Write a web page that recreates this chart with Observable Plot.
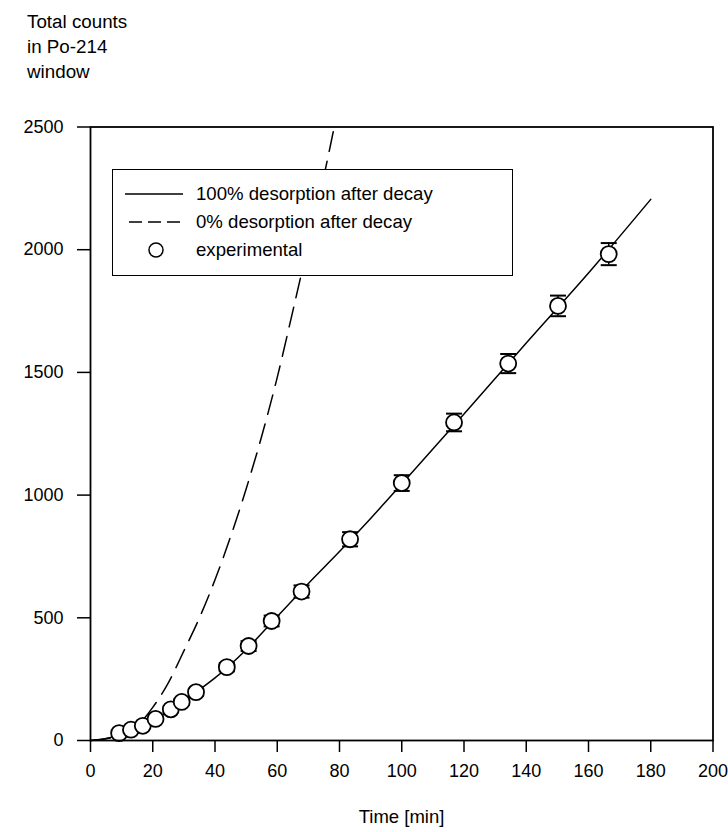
<!DOCTYPE html>
<html><head><meta charset="utf-8">
<script src="https://cdn.jsdelivr.net/npm/d3@7"></script>
<script src="https://cdn.jsdelivr.net/npm/@observablehq/plot@0.6"></script>
<style>
body{margin:0;background:#fff;font-family:"Liberation Sans",Arial,sans-serif;color:#000;}
#wrap{position:relative;width:728px;height:832px;}
#title{position:absolute;left:27px;top:9px;font-size:18.8px;line-height:25px;}
#xlabel{position:absolute;left:90px;width:623px;top:806px;text-align:center;font-size:18.5px;}
#legend{position:absolute;left:112px;top:169px;width:401px;height:107px;border:1.5px solid #000;background:#fff;box-sizing:border-box;}
.row{position:absolute;left:0;height:26px;width:100%;font-size:18.6px;line-height:26px;}
.row svg{position:absolute;left:10px;top:3px;}
.row span{position:absolute;left:83px;top:0;white-space:nowrap;}
</style></head>
<body><div id="wrap">
<div id="title">Total counts<br>in Po-214<br>window</div>
<div id="chart"></div>
<div id="legend">
 <div class="row" style="top:11px"><svg width="62" height="20"><line x1="2" y1="10" x2="60" y2="10" stroke="#000" stroke-width="1.5"/></svg><span>100% desorption after decay</span></div>
 <div class="row" style="top:39px"><svg width="62" height="20"><line x1="6" y1="10" x2="60" y2="10" stroke="#000" stroke-width="1.5" stroke-dasharray="13,6"/></svg><span>0% desorption after decay</span></div>
 <div class="row" style="top:67px"><svg width="62" height="20"><circle cx="33" cy="10" r="7" fill="#fff" stroke="#000" stroke-width="1.5"/></svg><span>experimental</span></div>
</div>
<div id="xlabel">Time [min]</div>
</div>
<script>
// experimental points
const expT = [9.2, 13.0, 16.8, 20.9, 25.8, 29.3, 33.9, 43.8, 50.8, 58.2, 67.8, 83.4, 100.0, 116.8, 134.2, 150.2, 166.5];
const expY = [30, 44, 60, 88, 127, 157, 197, 299, 385, 487, 607, 820, 1049, 1296, 1536, 1771, 1982];
const expErr = [5, 7, 8, 9, 11, 13, 14, 17, 20, 22, 25, 29, 32, 36, 39, 42, 45];
// model: 100% desorption after decay
const fullT = [0, 5, 10, 15, 20, 25, 30, 35, 40, 50, 60, 70, 80, 90, 100, 120, 140, 160, 180];
const fullY = [0, 8, 25, 50, 82, 120, 162, 207, 255, 370, 505, 640, 770, 905, 1045, 1330, 1620, 1905, 2205];
// model: 0% desorption after decay
const zeroT = [0, 5, 10, 15, 20, 25, 30, 35, 40, 45, 50, 55, 60, 65, 70, 75, 78.3];
const zeroY = [0, 7, 24, 60, 135, 235, 365, 500, 655, 830, 1025, 1240, 1480, 1750, 2025, 2300, 2500];
const xTicks = [0, 20, 40, 60, 80, 100, 120, 140, 160, 180, 200];
const yTicks = [0, 500, 1000, 1500, 2000, 2500];

const exp = expT.map((t, i) => ({t, y: expY[i], e: expErr[i]}));
const full = fullT.map((t, i) => ({t, y: fullY[i]}));
const zero = zeroT.map((t, i) => ({t, y: zeroY[i]}));

const cap = {draw(ctx, size) { const w = Math.sqrt(size / Math.PI); ctx.moveTo(-w, 0); ctx.lineTo(w, 0); }};

const chart = Plot.plot({
  width: 728, height: 832,
  marginLeft: 90, marginRight: 15.5, marginTop: 126.5, marginBottom: 92,
  style: {fontFamily: '"Liberation Sans", Arial, sans-serif', fontSize: "18px", color: "#000", background: "transparent"},
  x: {domain: [0, 200]},
  y: {domain: [0, 2500]},
  marks: [
    Plot.axisX({ticks: xTicks, tickSize: 12, tickPadding: 12, tickFormat: d3.format("d"), label: null, strokeWidth: 1.5, fontSize: 18}),
    Plot.axisY({ticks: yTicks, tickSize: 13, tickPadding: 14, tickFormat: d3.format("d"), label: null, strokeWidth: 1.5, fontSize: 18}),
    Plot.line(zero, {x: "t", y: "y", stroke: "#000", strokeWidth: 1.5, strokeDasharray: "20,10", curve: "monotone-x"}),
    Plot.line(full, {x: "t", y: "y", stroke: "#000", strokeWidth: 1.5, curve: "monotone-x"}),
    Plot.ruleX(exp, {x: "t", y1: d => d.y - d.e, y2: d => d.y + d.e, stroke: "#000", strokeWidth: 1.5}),
    Plot.dot(exp, {x: "t", y: d => d.y + d.e, symbol: cap, r: 8, stroke: "#000", strokeWidth: 2}),
    Plot.dot(exp, {x: "t", y: d => d.y - d.e, symbol: cap, r: 8, stroke: "#000", strokeWidth: 2}),
    Plot.dot(exp, {x: "t", y: "y", r: 8, fill: "#fff", stroke: "#000", strokeWidth: 1.8}),
    Plot.frame({stroke: "#000", strokeWidth: 1.8})
  ]
});
chart.style.position = "absolute";
chart.style.left = "0"; chart.style.top = "0";
document.getElementById("chart").appendChild(chart);
</script>
</body></html>
